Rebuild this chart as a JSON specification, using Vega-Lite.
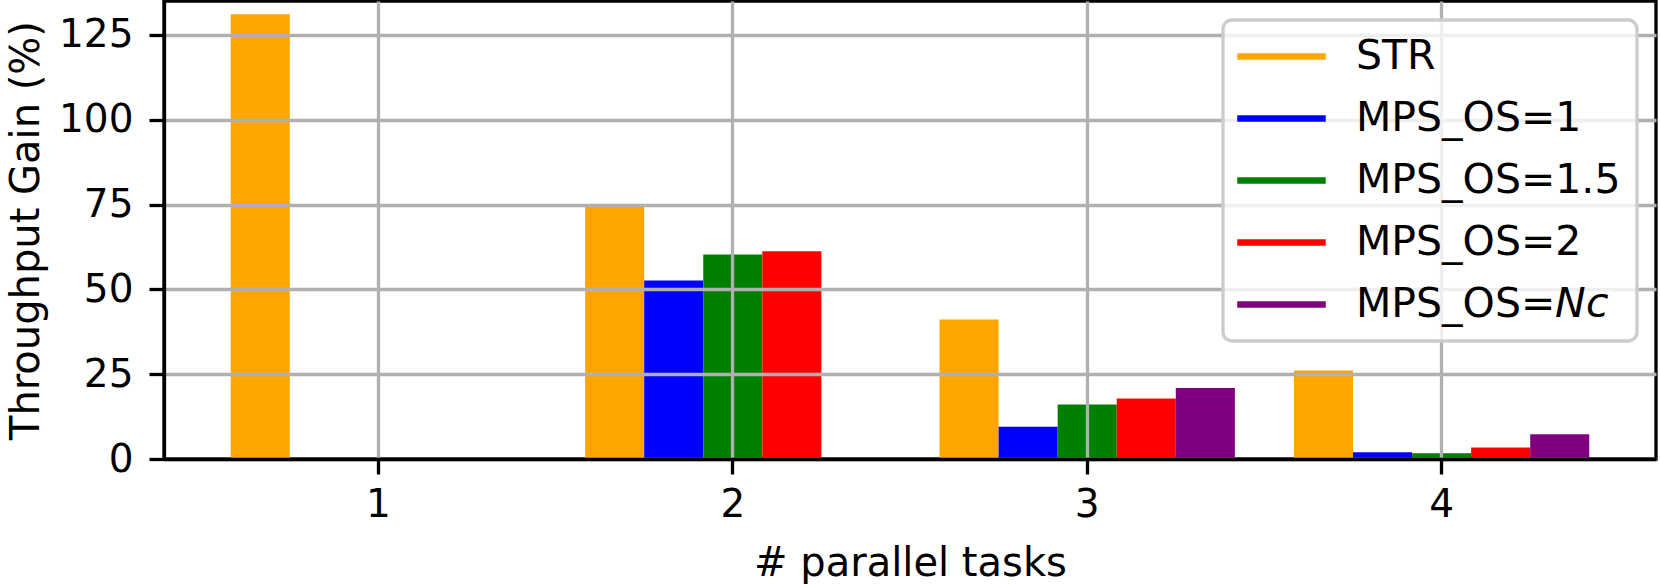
{
  "$schema": "https://vega.github.io/schema/vega-lite/v6.json",
  "width": 1492,
  "height": 458,
  "autosize": {"type": "none"},
  "padding": {"left": 164, "top": 1, "right": 4, "bottom": 125},
  "background": "white",
  "config": {
    "font": "DejaVu Sans",
    "view": {"stroke": "black", "strokeWidth": 3.3}
  },
  "data": {
    "values": [
      {"tasks": "1", "series": "STR", "gain": 131.1},
      {"tasks": "2", "series": "STR", "gain": 74.5},
      {"tasks": "2", "series": "MPS_OS=1", "gain": 52.6},
      {"tasks": "2", "series": "MPS_OS=1.5", "gain": 60.3},
      {"tasks": "2", "series": "MPS_OS=2", "gain": 61.2},
      {"tasks": "3", "series": "STR", "gain": 41.1},
      {"tasks": "3", "series": "MPS_OS=1", "gain": 9.5},
      {"tasks": "3", "series": "MPS_OS=1.5", "gain": 16.1},
      {"tasks": "3", "series": "MPS_OS=2", "gain": 17.8},
      {"tasks": "3", "series": "MPS_OS=𝘕𝘤", "gain": 20.9},
      {"tasks": "4", "series": "STR", "gain": 26.1},
      {"tasks": "4", "series": "MPS_OS=1", "gain": 2.0},
      {"tasks": "4", "series": "MPS_OS=1.5", "gain": 1.7},
      {"tasks": "4", "series": "MPS_OS=2", "gain": 3.4},
      {"tasks": "4", "series": "MPS_OS=𝘕𝘤", "gain": 7.3}
    ]
  },
  "mark": {"type": "bar"},
  "encoding": {
    "x": {
      "field": "tasks",
      "type": "ordinal",
      "sort": ["1", "2", "3", "4"],
      "scale": {"paddingInner": 0.16667, "paddingOuter": 0.1883},
      "axis": {
        "title": "# parallel tasks",
        "labelAngle": 0,
        "grid": true,
        "bandPosition": 0.5,
        "gridColor": "#b0b0b0",
        "gridWidth": 3.3,
        "domainColor": "black",
        "domainWidth": 3.3,
        "tickColor": "black",
        "tickWidth": 3.3,
        "tickSize": 15,
        "labelFontSize": 39,
        "labelColor": "black",
        "labelPadding": 11,
        "titleFontSize": 40,
        "titleFontWeight": "normal",
        "titleColor": "black",
        "titlePadding": 19,
        "zindex": 1
      }
    },
    "xOffset": {
      "field": "series",
      "type": "nominal",
      "scale": {
        "domain": ["STR", "MPS_OS=1", "MPS_OS=1.5", "MPS_OS=2", "MPS_OS=𝘕𝘤"],
        "paddingInner": 0,
        "paddingOuter": 0
      }
    },
    "y": {
      "field": "gain",
      "type": "quantitative",
      "scale": {"domain": [0, 135], "nice": false},
      "axis": {
        "title": "Throughput Gain (%)",
        "values": [0, 25, 50, 75, 100, 125],
        "grid": true,
        "gridColor": "#b0b0b0",
        "gridWidth": 3.3,
        "domainColor": "black",
        "domainWidth": 3.3,
        "tickColor": "black",
        "tickWidth": 3.3,
        "tickSize": 15,
        "labelFontSize": 39,
        "labelColor": "black",
        "labelPadding": 16,
        "titleFontSize": 40,
        "titleFontWeight": "normal",
        "titleColor": "black",
        "titlePadding": 12,
        "zindex": 1
      }
    },
    "color": {
      "field": "series",
      "type": "nominal",
      "scale": {
        "domain": ["STR", "MPS_OS=1", "MPS_OS=1.5", "MPS_OS=2", "MPS_OS=𝘕𝘤"],
        "range": ["#ffa500", "#0000ff", "#008000", "#ff0000", "#800080"]
      },
      "legend": {
        "title": null,
        "orient": "top-right",
        "offset": 19,
        "symbolType": "M-3,0H3",
        "symbolSize": 870,
        "symbolStrokeWidth": 6.3,
        "symbolOffset": 22,
        "labelFontSize": 41,
        "labelColor": "black",
        "labelOffset": 54,
        "labelLimit": 0,
        "rowPadding": 20,
        "padding": 16,
        "fillColor": "rgba(255,255,255,0.8)",
        "strokeColor": "#cccccc",
        "cornerRadius": 9,
        "zindex": 2,
        "encode": {
          "legend": {"update": {"strokeWidth": {"value": 3.3}}},
          "symbols": {"update": {"stroke": {"scale": "color", "field": "value"}}}
        }
      }
    }
  }
}
